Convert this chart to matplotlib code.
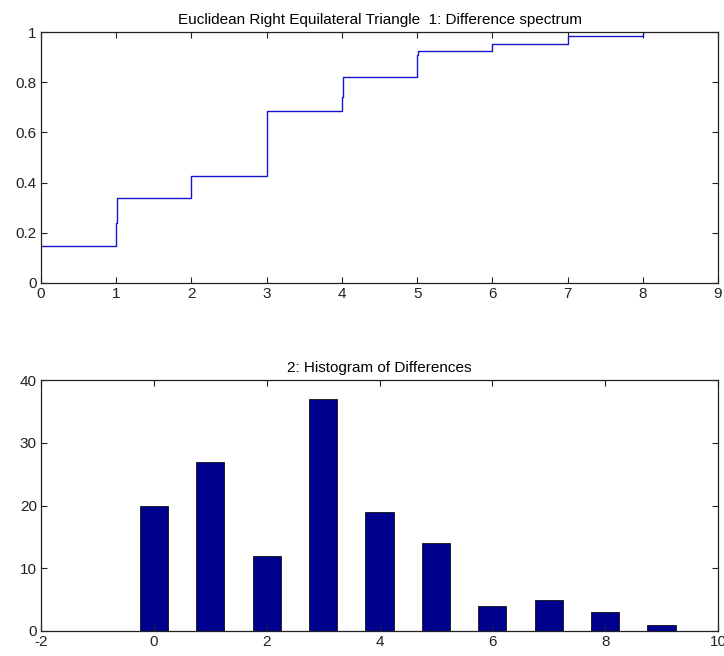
import matplotlib
matplotlib.use("Agg")
import matplotlib.pyplot as plt
import numpy as np

plt.rcParams['font.family'] = ['Liberation Sans', 'DejaVu Sans']
plt.rcParams['axes.unicode_minus'] = False

# cumulative fraction of differences (step positions and level after each step)
step_x = [0.0, 1.0, 1.01, 1.99, 2.0, 3.0, 3.01, 4.0, 4.02, 5.0, 5.01, 5.99, 6.0, 7.0, 8.0]
step_cdf = [0.149, 0.24, 0.340, 0.371, 0.428, 0.67, 0.687, 0.743, 0.820, 0.91, 0.923, 0.943, 0.952, 0.985, 1.0]

# histogram of differences
bin_centers = [0, 1, 2, 3, 4, 5, 6, 7, 8, 9]
counts = [20, 27, 12, 37, 19, 14, 4, 5, 3, 1]

W, H = 724, 656
fig = plt.figure(figsize=(W / 100, H / 100), dpi=100)

def style(ax):
    for s in ax.spines.values():
        s.set_linewidth(0.9)
        s.set_color('#222222')
    ax.tick_params(direction='in', length=4, width=0.8, top=True, right=True,
                   labelsize=11, colors='#222222', pad=3)

ax1 = fig.add_axes([41 / W, 1 - 283 / H, (718 - 41) / W, (283 - 32) / H])
ax1.step(step_x, step_cdf, where='post', color='#1515d0', lw=1.0)
ax1.set_xlim(0, 9)
ax1.set_ylim(0, 1)
ax1.set_xticks(range(0, 10))
ax1.set_yticks([0, 0.2, 0.4, 0.6, 0.8, 1])
ax1.set_yticklabels(['0', '0.2', '0.4', '0.6', '0.8', '1'])
ax1.set_title('Euclidean Right Equilateral Triangle  1: Difference spectrum',
              fontsize=11, pad=6)
style(ax1)

ax2 = fig.add_axes([41 / W, 1 - 631 / H, (718 - 41) / W, (631 - 380) / H])
ax2.bar(bin_centers, counts, width=0.5, color='#00008f', edgecolor='#111111', linewidth=0.6)
ax2.set_xlim(-2, 10)
ax2.set_ylim(0, 40)
ax2.set_xticks(range(-2, 11, 2))
ax2.set_yticks(range(0, 41, 10))
ax2.set_title('2: Histogram of Differences', fontsize=11, pad=6)
style(ax2)

fig.savefig('out.png', dpi=100)
